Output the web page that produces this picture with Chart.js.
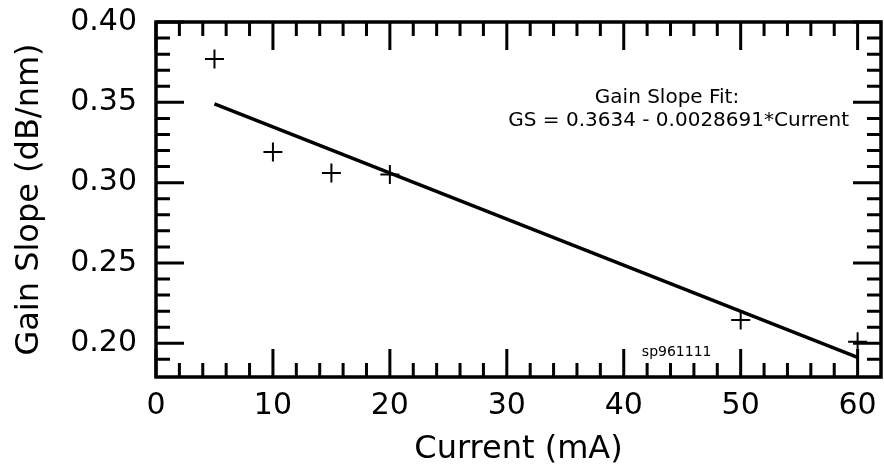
<!DOCTYPE html>
<html>
<head>
<meta charset="utf-8">
<script src="https://cdn.jsdelivr.net/npm/chart.js@4/dist/chart.umd.min.js"></script>
<style>
  html, body { margin: 0; padding: 0; background: #fff; }
  #wrap { width: 884px; height: 469px; }
</style>
</head>
<body>
<div id="wrap"><canvas id="c" width="884" height="469"></canvas></div>
<script>
// Measured gain slope versus drive current
const currents = [5, 10, 15, 20, 50, 60];
const gainSlopes = [0.377, 0.319, 0.306, 0.305, 0.2145, 0.201];

// Linear fit GS = intercept + slope * Current, drawn over the measured range
const fitIntercept = 0.3634;
const fitSlope = -0.0028691;
const fitRange = [5, 60];

// Axis ticks
const xTickLabels = [0, 10, 20, 30, 40, 50, 60];
const xMinorTicks = [2, 4, 6, 8, 12, 14, 16, 18, 22, 24, 26, 28, 32, 34, 36, 38,
                     42, 44, 46, 48, 52, 54, 56, 58];
const yTickLabels = [0.20, 0.25, 0.30, 0.35, 0.40];
const yMinorTicks = [0.19, 0.21, 0.22, 0.23, 0.24, 0.26, 0.27, 0.28, 0.29,
                     0.31, 0.32, 0.33, 0.34, 0.36, 0.37, 0.38, 0.39];

const fitLabelTitle = 'Gain Slope Fit:';
const fitLabelText = 'GS = ' + fitIntercept + ' - ' + Math.abs(fitSlope) + '*Current';
const plotId = 'sp961111';

const FONT = "'DejaVu Sans', sans-serif";

// Closed frame with inward major/minor tick marks on all four sides
const framePlugin = {
  id: 'frameTicks',
  afterDraw(chart) {
    const { ctx, chartArea: a, scales: { x, y } } = chart;
    const major = 28, minor = 14;
    ctx.save();
    ctx.strokeStyle = '#000';
    ctx.lineWidth = 3;
    ctx.lineCap = 'butt';
    ctx.beginPath();
    const xTick = (v, len) => {
      const px = x.getPixelForValue(v);
      ctx.moveTo(px, a.bottom); ctx.lineTo(px, a.bottom - len);
      ctx.moveTo(px, a.top); ctx.lineTo(px, a.top + len);
    };
    const yTick = (v, len) => {
      const py = y.getPixelForValue(v);
      ctx.moveTo(a.left, py); ctx.lineTo(a.left + len, py);
      ctx.moveTo(a.right, py); ctx.lineTo(a.right - len, py);
    };
    xTickLabels.forEach(v => xTick(v, major));
    xMinorTicks.forEach(v => xTick(v, minor));
    yTickLabels.forEach(v => yTick(v, major));
    yMinorTicks.forEach(v => yTick(v, minor));
    ctx.stroke();
    ctx.lineWidth = 3.5;
    ctx.strokeRect(a.left, a.top, a.right - a.left, a.bottom - a.top);

    // Fit annotation
    ctx.fillStyle = '#000';
    ctx.textAlign = 'center';
    ctx.textBaseline = 'middle';
    ctx.font = '20px ' + FONT;
    ctx.fillText(fitLabelTitle, x.getPixelForValue(43.7), y.getPixelForValue(0.3527));
    ctx.fillText(fitLabelText, x.getPixelForValue(44.7), y.getPixelForValue(0.3385));

    // Plot identifier
    ctx.textAlign = 'left';
    ctx.font = '14px ' + FONT;
    ctx.fillText(plotId, x.getPixelForValue(41.55), y.getPixelForValue(0.1946));
    ctx.restore();
  }
};

new Chart(document.getElementById('c'), {
  type: 'scatter',
  data: {
    datasets: [
      {
        label: 'Gain slope',
        data: currents.map((c, i) => ({ x: c, y: gainSlopes[i] })),
        pointStyle: 'cross',
        pointRadius: 9.5,
        pointHoverRadius: 9.5,
        borderColor: '#000',
        backgroundColor: '#000',
        pointBorderWidth: 2,
        showLine: false
      },
      {
        label: 'Fit',
        data: fitRange.map(c => ({ x: c, y: fitIntercept + fitSlope * c })),
        showLine: true,
        borderColor: '#000',
        borderWidth: 3.5,
        pointRadius: 0,
        fill: false
      }
    ]
  },
  options: {
    responsive: false,
    animation: false,
    devicePixelRatio: 1,
    layout: { autoPadding: false, padding: { top: 22, right: 3, left: 0, bottom: 0 } },
    plugins: {
      legend: { display: false },
      tooltip: { enabled: false }
    },
    scales: {
      x: {
        type: 'linear',
        min: 0,
        max: 62,
        afterFit: s => { s.height = 92; s.paddingLeft = 0; s.paddingRight = 0; },
        afterBuildTicks: s => { s.ticks = xTickLabels.map(v => ({ value: v })); },
        grid: { display: false, drawTicks: false },
        border: { display: false },
        ticks: {
          color: '#000',
          padding: 11,
          maxRotation: 0,
          font: { family: FONT, size: 30 },
          callback: v => String(v)
        },
        title: {
          display: true,
          text: 'Current (mA)',
          color: '#000',
          padding: { top: 0, bottom: 0 },
          font: { family: FONT, size: 32 }
        }
      },
      y: {
        type: 'linear',
        min: 0.179,
        max: 0.40,
        afterFit: s => { s.width = 156; s.paddingTop = 0; s.paddingBottom = 0; },
        afterBuildTicks: s => { s.ticks = yTickLabels.map(v => ({ value: v })); },
        grid: { display: false, drawTicks: false },
        border: { display: false },
        ticks: {
          color: '#000',
          padding: 19,
          font: { family: FONT, size: 30 },
          callback: v => Number(v).toFixed(2)
        },
        title: {
          display: true,
          text: 'Gain Slope (dB/nm)',
          color: '#000',
          padding: { top: 10, bottom: 0 },
          font: { family: FONT, size: 32 }
        }
      }
    }
  },
  plugins: [framePlugin]
});
</script>
</body>
</html>
